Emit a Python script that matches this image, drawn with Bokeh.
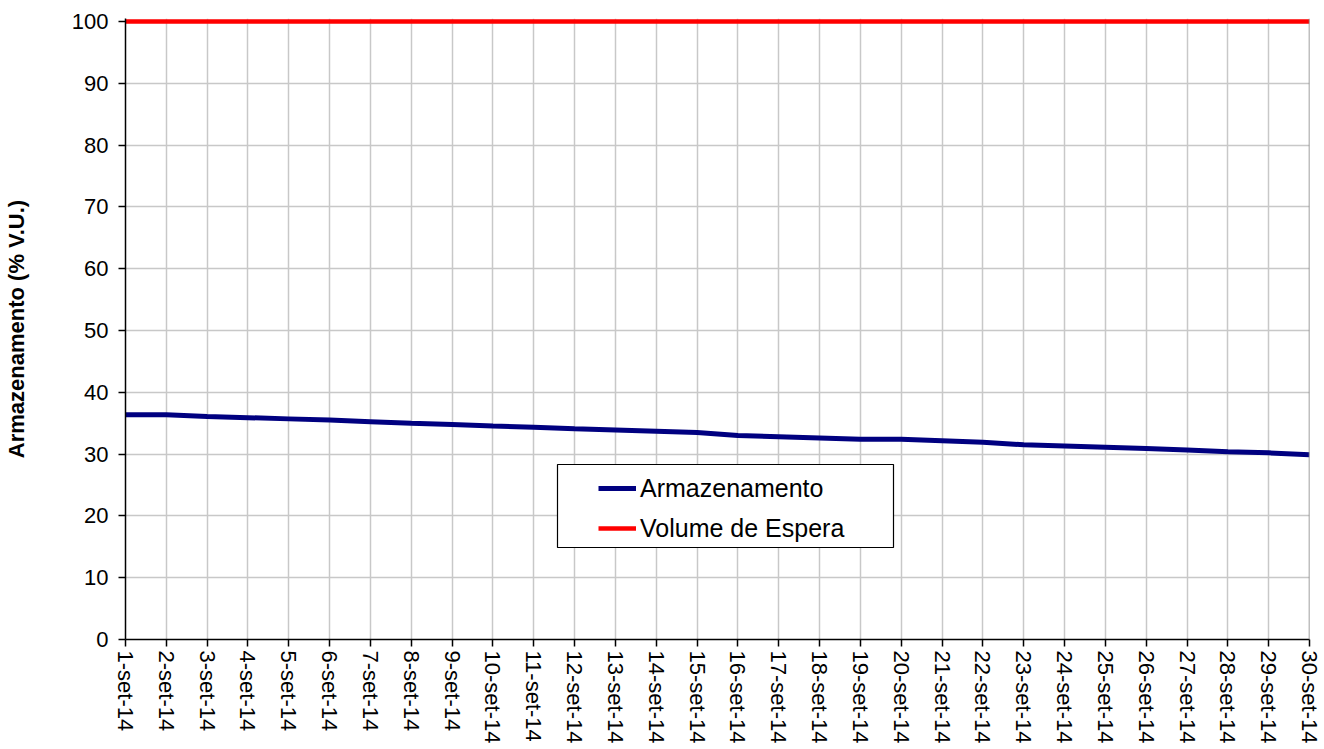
import math
from bokeh.plotting import figure
from bokeh.models import Legend, LegendItem, FixedTicker, Range1d, Span
from bokeh.embed import file_html
from bokeh.resources import INLINE

# ---- data ----
days = list(range(1, 31))
day_labels = [f"{d}-set-14" for d in days]
armazenamento = [36.35, 36.35, 36.1, 35.9, 35.7, 35.5, 35.25, 35.0, 34.8, 34.55,
                 34.35, 34.1, 33.9, 33.7, 33.5, 33.0, 32.8, 32.6, 32.4, 32.4,
                 32.15, 31.9, 31.5, 31.3, 31.1, 30.9, 30.65, 30.4, 30.2, 29.9]
volume_espera = [100] * 30
y_ticks = [0, 10, 20, 30, 40, 50, 60, 70, 80, 90, 100]

FONT = "Liberation Sans"

W, H = 1324, 749
ML, MR, MT, MB = 125, 15, 18, 110
FW, FH = W - ML - MR, H - MT - MB
Y_TOP = 100 * FH / 618.0  # keep 100 at ~3px below frame top so the red line is not clipped

p = figure(width=W, height=H, output_backend="svg", toolbar_location=None,
           x_range=Range1d(1, 30), y_range=Range1d(0, Y_TOP),
           min_border_left=ML, min_border_right=MR, min_border_top=MT, min_border_bottom=MB)
p.background_fill_color = "white"
p.border_fill_color = "white"
p.outline_line_color = None

# axes
p.xaxis.ticker = FixedTicker(ticks=days)
p.xaxis.major_label_overrides = {d: lab for d, lab in zip(days, day_labels)}
p.xaxis.major_label_orientation = -math.pi / 2
p.yaxis.ticker = FixedTicker(ticks=y_ticks)
for ax in (p.xaxis[0], p.yaxis[0]):
    ax.axis_line_color = "black"
    ax.axis_line_width = 1.5
    ax.major_tick_line_color = "black"
    ax.major_tick_line_width = 1.5
    ax.major_tick_in = 0
    ax.major_tick_out = 7
    ax.minor_tick_line_color = None
    ax.major_label_text_font = FONT
    ax.major_label_text_color = "black"
p.xaxis.major_label_text_font_size = "22px"
p.xaxis.major_label_standoff = 4
p.yaxis.major_label_text_font_size = "22px"
p.yaxis.major_label_standoff = 10
p.yaxis.axis_label = "Armazenamento (% V.U.)"
p.yaxis.axis_label_text_font = FONT
p.yaxis.axis_label_text_font_style = "bold"
p.yaxis.axis_label_text_font_size = "22px"
p.yaxis.axis_label_text_color = "black"
p.yaxis.axis_label_standoff = 40

p.xgrid.ticker = FixedTicker(ticks=days)
p.xgrid.grid_line_color = "#c8c8c8"
p.xgrid.grid_line_width = 1.5
p.ygrid.ticker = FixedTicker(ticks=y_ticks)
p.ygrid.grid_line_color = "#c8c8c8"
p.ygrid.grid_line_width = 1.5

# right border of the plot area
p.add_layout(Span(location=30, dimension="height", line_color="#808080", line_width=1.5))

# lines
r_arm = p.line(days, armazenamento, line_color="#000080", line_width=5)
r_vol = p.line(days, volume_espera, line_color="#ff0000", line_width=4.5)

# legend frame (layout box in screen px relative to frame bottom-left)
BOX_L, BOX_R, BOX_B, BOX_T = 432, 768, 92, 175
PX_PER_Y = FH / Y_TOP
def sx(px):
    return 1 + px * 29 / FW
def sy(px):
    return px / PX_PER_Y
p.quad(left=[sx(BOX_L)], right=[sx(BOX_R)], bottom=[sy(BOX_B)], top=[sy(BOX_T)],
       fill_color="white", line_color="black", line_width=1.2)

legend = Legend(items=[LegendItem(label="Armazenamento", renderers=[r_arm]),
                       LegendItem(label="Volume de Espera", renderers=[r_vol])],
                location=(473, 91), padding=0, margin=0, spacing=0,
                glyph_width=38, glyph_height=20, label_height=40, label_standoff=4,
                background_fill_alpha=0, border_line_color=None,
                label_text_font=FONT, label_text_font_size="25px", label_text_color="black")
p.add_layout(legend)

open("out.html", "w").write(file_html(p, INLINE))
